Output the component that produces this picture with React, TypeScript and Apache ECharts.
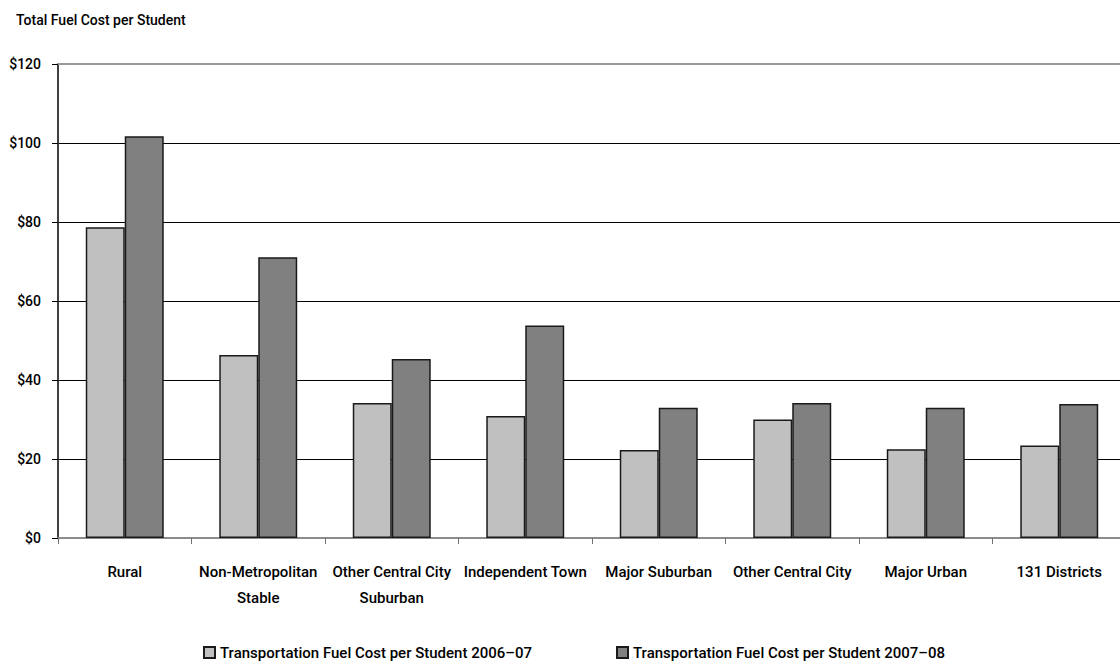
import React, { useEffect, useRef } from "react";
import * as echarts from "echarts";

const categories = [
  "Rural",
  "Non-Metropolitan\nStable",
  "Other Central City\nSuburban",
  "Independent Town",
  "Major Suburban",
  "Other Central City",
  "Major Urban",
  "131 Districts",
];
const series0607 = [78.7, 46.3, 34.2, 30.9, 22.3, 30.0, 22.5, 23.4];
const series0708 = [101.7, 71.1, 45.3, 53.8, 33.0, 34.2, 33.0, 33.9];
const seriesNames = [
  "Transportation Fuel Cost per Student 2006\u201307",
  "Transportation Fuel Cost per Student 2007\u201308",
];
const titleText = "Total Fuel Cost per Student";
const yTicks = { min: 0, max: 120, interval: 20 };

const FONT = "Roboto, 'Liberation Sans', sans-serif";

export default function App() {
  const ref = useRef<HTMLDivElement>(null);
  useEffect(() => {
    if (!ref.current) return;
    const chart = echarts.init(ref.current, null, { renderer: "svg" });
    const textBase = { fontFamily: FONT, color: "#000", fontWeight: 500 };
    chart.setOption({
      animation: false,
      backgroundColor: "#fff",
      title: {
        text: titleText,
        left: 11,
        top: 8,
        textStyle: { ...textBase, fontSize: 14 },
      },
      legend: [
        {
          data: [seriesNames[0]],
          left: 198,
          top: 640,
          icon: "rect",
          itemWidth: 11,
          itemHeight: 11,
          itemGap: 8,
          textStyle: { ...textBase, fontSize: 15 },
        },
        {
          data: [seriesNames[1]],
          left: 611,
          top: 640,
          icon: "rect",
          itemWidth: 11,
          itemHeight: 11,
          itemGap: 8,
          textStyle: { ...textBase, fontSize: 15 },
        },
      ],
      grid: { left: 58, top: 64, bottom: 131, right: 0, containLabel: false },
      xAxis: [
        {
          type: "category",
          data: categories,
          boundaryGap: true,
          axisLine: { show: true, lineStyle: { color: "#8c8c8c", width: 2 } },
          axisTick: { show: true, length: 6, lineStyle: { color: "#707070", width: 1 } },
          axisLabel: {
            ...textBase,
            fontSize: 15,
            lineHeight: 26,
            margin: 21,
            interval: 0,
          },
        },
        {
          type: "category",
          data: categories,
          position: "top",
          axisLine: { show: true, lineStyle: { color: "#999", width: 2 } },
          axisTick: { show: false },
          axisLabel: { show: false },
        },
      ],
      yAxis: {
        type: "value",
        min: yTicks.min,
        max: yTicks.max,
        interval: yTicks.interval,
        axisLine: { show: true, lineStyle: { color: "#404040", width: 2 } },
        axisTick: { show: true, length: 6, lineStyle: { color: "#000", width: 1 } },
        axisLabel: {
          ...textBase,
          fontSize: 14,
          margin: 17,
          formatter: (v: number) => "$" + v,
        },
        splitLine: {
          show: true,
          lineStyle: {
            color: ["#000", "#000", "#000", "#000", "#000", "#000", "#999"],
            width: 1,
          },
        },
      },
      series: [
        {
          name: seriesNames[0],
          type: "bar",
          data: series0607,
          barGap: "0%",
          barCategoryGap: "41.6%",
          itemStyle: { color: "#c0c0c0", borderColor: "#1a1a1a", borderWidth: 1.5 },
        },
        {
          name: seriesNames[1],
          type: "bar",
          data: series0708,
          barGap: "0%",
          barCategoryGap: "41.6%",
          itemStyle: { color: "#808080", borderColor: "#1a1a1a", borderWidth: 1.5 },
        },
      ],
    });
    return () => chart.dispose();
  }, []);
  return (
    <div
      style={{
        position: "absolute",
        left: 0,
        top: 0,
        width: 1120,
        height: 669,
        overflow: "hidden",
        background: "#fff",
      }}
    >
      <div ref={ref} style={{ width: 1126, height: 669 }} />
    </div>
  );
}
